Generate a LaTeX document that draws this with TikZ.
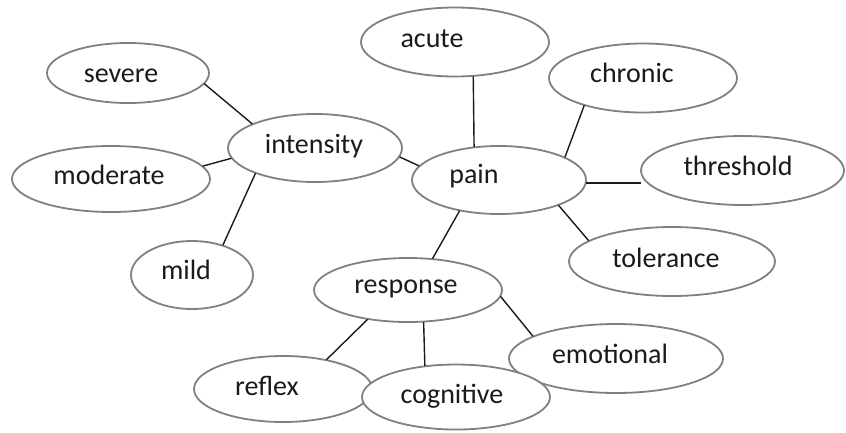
\documentclass[tikz,border=0pt]{standalone}
\usepackage{fontspec}
\setmainfont{Carlito}
\usetikzlibrary{shapes.geometric}
\definecolor{rim}{RGB}{128,128,128}
\definecolor{ink}{RGB}{26,26,26}
\tikzset{
  bubble/.style={ellipse, draw=rim, line width=1.8pt, fill=white, inner sep=0pt, outer sep=0.5pt},
  lbl/.style={anchor=base, inner sep=0pt, text=ink, font=\fontsize{28}{34}\selectfont},
  link/.style={draw=ink, line width=1.4pt}
}
\begin{document}
\begin{tikzpicture}[x=1pt,y=-1pt]
\useasboundingbox (0,0) rectangle (846,432);
% ellipses
\node[bubble, minimum width=162pt, minimum height=60pt] (severe) at (128,73) {};
\node[bubble, minimum width=198pt, minimum height=66pt] (moderate) at (111,179) {};
\node[bubble, minimum width=122pt, minimum height=68pt] (mild) at (192,275) {};
\node[bubble, minimum width=174pt, minimum height=68pt] (intensity) at (315,148) {};
\node[bubble, minimum width=188pt, minimum height=69pt] (acute) at (455,42) {};
\node[bubble, minimum width=188pt, minimum height=69pt] (chronic) at (643,78) {};
\node[bubble, minimum width=174pt, minimum height=68pt] (pain) at (499,180) {};
\node[bubble, minimum width=203pt, minimum height=69pt] (threshold) at (742.5,170.5) {};
\node[bubble, minimum width=206pt, minimum height=69pt] (tolerance) at (672,261.5) {};
\node[bubble, minimum width=188pt, minimum height=64pt] (response) at (408,290) {};
\node[bubble, minimum width=178pt, minimum height=66pt] (reflex) at (283,389) {};
\node[bubble, minimum width=214pt, minimum height=69pt] (emotional) at (616,358.5) {};
\node[bubble, minimum width=188pt, minimum height=65pt] (cognitive) at (456,397) {};
% labels
\node[lbl] (tsevere) at (121,82) {severe};
\node[lbl] (tmoderate) at (109,184) {moderate};
\node[lbl] (tmild) at (186,279) {mild};
\node[lbl] (tintensity) at (314,153) {intensity};
\node[lbl] (tacute) at (432,47) {acute};
\node[lbl] (tchronic) at (632,82) {chronic};
\node[lbl] (tpain) at (474,183) {pain};
\node[lbl] (tthreshold) at (738,175) {threshold};
\node[lbl] (ttolerance) at (666,267) {tolerance};
\node[lbl] (tresponse) at (406,293) {response};
\node[lbl] (temotional) at (610,363) {emotional};
\node[lbl] (treflex) at (267,395) {reflex};
\node[lbl] (tcognitive) at (452,403) {cognitive};
% connectors
\draw[link] (severe.-8.5) -- (intensity.159);
\draw[link] (moderate.8) -- (intensity.-173);
\draw[link] (intensity.-157) -- (mild.44);
\draw[link] (intensity.-6.6) -- (pain.170);
\draw[link] (acute.-62.8) -- (pain.127.4);
\draw[link] (chronic.-155) -- (pain.19.6);
\draw[link] (pain.-2) -- (pain.-2 -| threshold.west);
\draw[link] (pain.-23.8) -- (tolerance.166.6);
\draw[link] (pain.-142.7) -- (response.52.4);
\draw[link] (response.-144) -- (reflex.34.5);
\draw[link] (response.-64.1) -- (cognitive.135);
\draw[link] (response.-4.3) -- (emotional.165.8);
\end{tikzpicture}
\end{document}
